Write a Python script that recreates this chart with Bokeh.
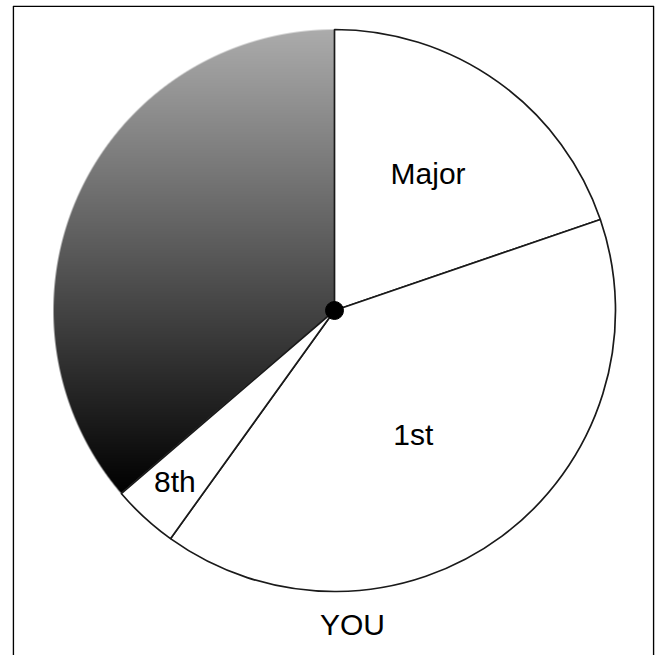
import numpy as np
from bokeh.plotting import figure
from bokeh.models import Range1d, ColumnDataSource
from bokeh.embed import file_html
from bokeh.resources import INLINE
from bokeh.core.properties import value

# ---- data ----
labels = ["Major", "1st", "8th", ""]
shares = [19.75, 40.17, 3.79, 36.29]   # percent, clockwise from 12 o'clock
footer = "YOU"

# ---- styles / layout ----
R = 281
label_radius = [0.585, 0.53, 0.84, 0.0]
label_nudge_x = [-2, -10, 0, 0]
label_nudge_y = [3, -4, 3, 0]
top_gray = 172
FONT = "Liberation Sans"
FS = "30px"

shares_a = np.array(shares, dtype=float)
ends = np.pi / 2 - np.cumsum(shares_a) / 100.0 * 2 * np.pi
starts = np.concatenate([[np.pi / 2], ends[:-1]])
mids = (starts + ends) / 2

p = figure(width=657, height=655, output_backend="svg", toolbar_location=None,
           x_range=Range1d(-322, 320), y_range=Range1d(-345, 305),
           min_border_left=12, min_border_right=3, min_border_top=5, min_border_bottom=0)
p.axis.visible = False
p.grid.visible = False
p.outline_line_color = None
p.background_fill_color = "white"
p.border_fill_color = "white"

# ---- gradient slice (last slice) as an anti-aliased image ----
a_hi = starts[-1] % (2 * np.pi)
a_lo = ends[-1] % (2 * np.pi)
lo, hi = min(a_hi, a_lo), max(a_hi, a_lo)
if hi - lo > np.pi:
    lo, hi = hi, lo + 2 * np.pi
arc = np.linspace(lo, hi, 400)
ys_arc = np.concatenate([R * np.sin(arc), [0.0]])
xs_arc = np.concatenate([R * np.cos(arc), [0.0]])
gy0, gy1 = ys_arc.min(), ys_arc.max()
x0, x1 = np.floor(xs_arc.min()) - 1, np.ceil(xs_arc.max()) + 1
y0, y1 = np.floor(gy0) - 1, np.ceil(gy1) + 1
W, H = int(x1 - x0), int(y1 - y0)
xc = x0 + 0.5 + np.arange(W)
yc = y0 + 0.5 + np.arange(H)
X, Y = np.meshgrid(xc, yc)
r = np.hypot(X, Y)
a_circle = np.clip(R - r + 0.5, 0, 1)
d_lo = np.cos(lo) * Y - np.sin(lo) * X
d_hi = -(np.cos(hi) * Y - np.sin(hi) * X)
alpha = a_circle * np.clip(d_lo + 0.5, 0, 1) * np.clip(d_hi + 0.5, 0, 1)
t = np.clip((Y - gy0) / (gy1 - gy0), 0, 1)
g = (top_gray * t).astype(np.uint8)
img = np.zeros((H, W, 4), dtype=np.uint8)
img[..., 0] = g
img[..., 1] = g
img[..., 2] = g
img[..., 3] = (alpha * 255).astype(np.uint8)
p.image_rgba(image=[img.view(np.uint32).reshape(H, W)], x=x0, y=y0, dw=W, dh=H)

# ---- white slices ----
src = ColumnDataSource(dict(start=ends[:-1], end=starts[:-1]))
p.wedge(x=0, y=0, radius=R, start_angle="start", end_angle="end", source=src,
        fill_color="white", line_color="#1a1a1a", line_width=1.7)

# centre dot
p.scatter(x=[0], y=[0], size=18, color="black")

# labels
lx = [R * f * np.cos(m) + nx for f, m, nx in zip(label_radius, mids, label_nudge_x)]
ly = [R * f * np.sin(m) + ny for f, m, ny in zip(label_radius, mids, label_nudge_y)]
lab_src = ColumnDataSource(dict(x=lx[:-1], y=ly[:-1], t=labels[:-1]))
p.text(x="x", y="y", text="t", source=lab_src, text_font=value(FONT),
       text_font_size=FS, text_align="center", text_baseline="middle",
       text_color="black")
p.text(x=[18], y=[-314], text=[footer], text_font=value(FONT),
       text_font_size=FS, text_align="center", text_baseline="middle",
       text_color="black")

# frame (left, top, right)
xs = p.x_range.start + 0.8
xe = p.x_range.end - 0.8
ye = p.y_range.end - 0.8
p.line(x=[xs, xs, xe, xe], y=[p.y_range.start, ye, ye, p.y_range.start],
       line_color="black", line_width=1.6)

open("out.html", "w").write(file_html(p, INLINE))
